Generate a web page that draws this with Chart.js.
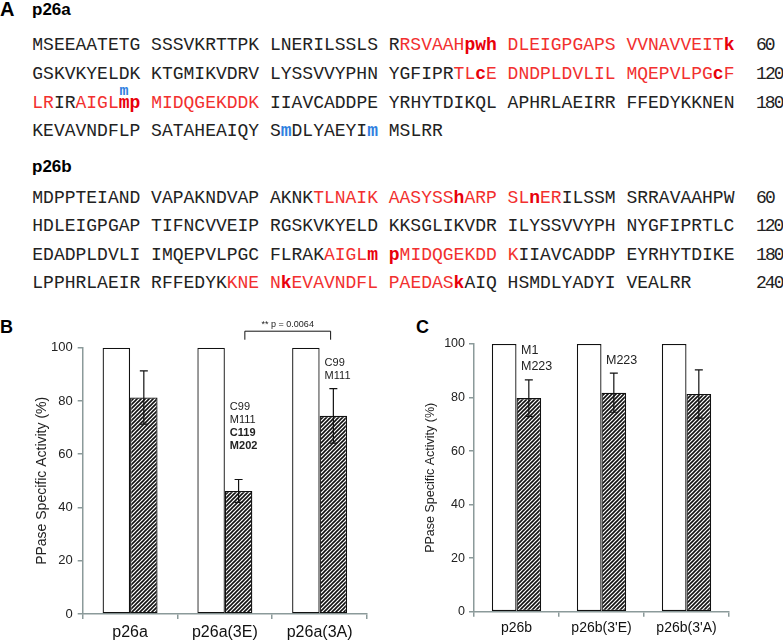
<!DOCTYPE html>
<html><head><meta charset="utf-8">
<script src="https://cdn.jsdelivr.net/npm/chart.js@4"></script>
<style>
body{margin:0;width:783px;height:642px;position:relative;background:#fff;overflow:hidden;font-family:"Liberation Sans",Arial,sans-serif}
.seq{position:absolute;left:32.3px;font-family:"Liberation Mono","Courier New",monospace;font-size:18px;line-height:18px;white-space:pre;color:#222}
.r{color:#f2302f}
.rb{color:#e8000b;font-weight:bold}
.bb{color:#2f7fe0;font-weight:bold}
.n{letter-spacing:-2px}
.lbl{position:absolute;font-weight:bold;font-family:"Liberation Sans",Arial,sans-serif;line-height:1;color:#000;white-space:pre}
canvas{position:absolute}
</style>
</head><body>
<div class="lbl" style="left:0;top:-1px;font-size:20px">A</div>
<div class="lbl" style="left:32px;top:1px;font-size:17px">p26a</div>
<div class="seq" style="top:35.5px">MSEEAATETG SSSVKRTTPK LNERILSSLS R<span class="r">RSVAAH</span><span class="rb">pwh</span><span class="r"> DLEIGPGAPS VVNAVVEIT</span><span class="rb">k</span>  <span class="n">60</span></div>
<div class="seq" style="top:65px">GSKVKYELDK KTGMIKVDRV LYSSVVYPHN YGFIPR<span class="r">TL</span><span class="rb">c</span><span class="r">E DNDPLDVLIL MQEPVLPG</span><span class="rb">c</span><span class="r">F</span>  <span class="n">120</span></div>
<div class="seq" style="top:93.9px"><span class="r">LR</span>IR<span class="r">AIGL</span><span class="rb">mp</span><span class="r"> MIDQGEKDDK</span> IIAVCADDPE YRHYTDIKQL APHRLAEIRR FFEDYKKNEN  <span class="n">180</span></div>
<div class="seq bb" style="top:83.5px;left:119.6px;font-size:15px;line-height:15px">m</div>
<div class="seq" style="top:122.2px">KEVAVNDFLP SATAHEAIQY S<span class="bb">m</span>DLYAEYI<span class="bb">m</span> MSLRR</div>
<div class="lbl" style="left:32px;top:157.6px;font-size:17px">p26b</div>
<div class="seq" style="top:188.9px">MDPPTEIAND VAPAKNDVAP AKNK<span class="r">TLNAIK AASYSS</span><span class="rb">h</span><span class="r">ARP SL</span><span class="rb">n</span><span class="r">ER</span>ILSSM SRRAVAAHPW  <span class="n">60</span></div>
<div class="seq" style="top:217.2px">HDLEIGPGAP TIFNCVVEIP RGSKVKYELD KKSGLIKVDR ILYSSVVYPH NYGFIPRTLC  <span class="n">120</span></div>
<div class="seq" style="top:245.5px">EDADPLDVLI IMQEPVLPGC FLRAK<span class="r">AIGL</span><span class="rb">m</span> <span class="rb">p</span><span class="r">MIDQGEKDD K</span>IIAVCADDP EYRHYTDIKE  <span class="n">180</span></div>
<div class="seq" style="top:273.9px">LPPHRLAEIR RFFEDYK<span class="r">KNE N</span><span class="rb">k</span><span class="r">EVAVNDFL PAEDAS</span><span class="rb">k</span>AIQ HSMDLYADYI VEALRR      <span class="n">240</span></div>
<div class="lbl" style="left:0;top:318px;font-size:18px">B</div>
<div class="lbl" style="left:416px;top:318px;font-size:18px">C</div>
<canvas id="cB" width="390" height="342" style="left:0;top:300px;width:390px;height:342px"></canvas>
<canvas id="cC" width="393" height="342" style="left:390px;top:300px;width:393px;height:342px"></canvas>
<script>
// ---- data ----
const catsB = ['p26a', 'p26a(3E)', 'p26a(3A)'];
const untreatedB = [100, 100, 100];
const treatedB = [81.3, 46.2, 74.4];
const errB = [10.0, 4.3, 10.2];
const notesB = [[], ['C99', 'M111', 'C119', 'M202'], ['C99', 'M111']];
const sigText = '** p = 0.0064';

const catsC = ['p26b', "p26b(3'E)", "p26b(3'A)"];
const untreatedC = [100, 100, 100];
const treatedC = [79.8, 81.8, 81.3];
const errC = [6.8, 7.3, 9.0];
const notesC = [['M1', 'M223'], ['M223'], []];

const yTicks = [0, 20, 40, 60, 80, 100];
const yTitle = 'PPase Specific Activity (%)';

// ---- drawing ----
Chart.defaults.font.family = '"Liberation Sans", Arial, sans-serif';
const AX = '#8b9a9a';

function hatch() {
  const s = 4, c = document.createElement('canvas');
  c.width = s; c.height = s;
  const g = c.getContext('2d');
  g.fillStyle = '#fff'; g.fillRect(0, 0, s, s);
  g.strokeStyle = '#111'; g.lineWidth = 1.6;
  g.beginPath();
  g.moveTo(0, s); g.lineTo(s, 0);
  g.moveTo(-1, 1); g.lineTo(1, -1);
  g.moveTo(s - 1, s + 1); g.lineTo(s + 1, s - 1);
  g.stroke();
  return g.createPattern(c, 'repeat');
}

const extras = {
  id: 'extras',
  afterDatasetsDraw(chart, args, o) {
    const ctx = chart.ctx, y = chart.scales.y, x = chart.scales.x;
    const meta = chart.getDatasetMeta(1);
    ctx.save();
    // error bars
    ctx.strokeStyle = '#111'; ctx.lineWidth = 1.2;
    meta.data.forEach((bar, i) => {
      const v = o.values[i], e = o.err[i];
      const yt = y.getPixelForValue(v + e), yb = y.getPixelForValue(v - e);
      ctx.beginPath();
      ctx.moveTo(bar.x, yt); ctx.lineTo(bar.x, yb);
      ctx.moveTo(bar.x - 4, yt); ctx.lineTo(bar.x + 4, yt);
      ctx.moveTo(bar.x - 4, yb); ctx.lineTo(bar.x + 4, yb);
      ctx.stroke();
    });
    // annotations
    ctx.fillStyle = '#222'; ctx.textBaseline = 'middle'; ctx.textAlign = 'left';
    o.notes.forEach((lines, i) => {
      if (!lines.length) return;
      const bar = meta.data[i];
      const left = bar.x - bar.width / 2 + o.noteDx;
      const y0 = y.getPixelForValue(o.noteY[i]);
      lines.forEach((t, k) => {
        const bold = o.bold && o.bold[i] && o.bold[i].includes(k);
        ctx.font = (bold ? 'bold ' : '') + o.noteSize + 'px "Liberation Sans", Arial, sans-serif';
        ctx.fillText(t, left, y0 + k * o.noteGap);
      });
    });
    // significance bracket
    if (o.sig) {
      const s = o.sig;
      const xl = x.getPixelForValue(s.from) + s.dxl, xr = x.getPixelForValue(s.to) + s.dxr;
      const yTop = y.getPixelForValue(s.top), yLeg = y.getPixelForValue(s.leg);
      ctx.lineWidth = 1;
      ctx.beginPath();
      ctx.moveTo(xl, yLeg); ctx.lineTo(xl, yTop); ctx.lineTo(xr, yTop); ctx.lineTo(xr, yLeg);
      ctx.stroke();
      ctx.font = '9px "Liberation Sans", Arial, sans-serif';
      ctx.textAlign = 'center';
      ctx.fillText(s.text, (xl + xr) / 2, y.getPixelForValue(s.textY));
    }
    ctx.restore();
  }
};

function makeChart(id, cats, base, vals, err, c) {
  return new Chart(document.getElementById(id), {
    type: 'bar',
    data: {
      labels: cats,
      datasets: [
        { data: base, backgroundColor: '#fff', borderColor: '#111', borderWidth: 1.3, borderSkipped: false,
          categoryPercentage: c.catPct, barPercentage: 1 },
        { data: vals, backgroundColor: hatch(), borderColor: '#111', borderWidth: 1.3, borderSkipped: false,
          categoryPercentage: c.catPct, barPercentage: 1 }
      ]
    },
    plugins: [extras],
    options: {
      responsive: false, animation: false,
      layout: { padding: { left: 0, top: c.top, right: c.right, bottom: 0 } },
      plugins: {
        legend: { display: false }, tooltip: { enabled: false },
        extras: { values: vals, err: err, notes: c.notes, noteY: c.noteY, noteDx: c.noteDx,
                  noteGap: c.noteGap, noteSize: c.noteSize, bold: c.bold, sig: c.sig }
      },
      scales: {
        x: {
          grid: { display: true, drawOnChartArea: false, offset: true, tickLength: 5, color: AX, lineWidth: 1.5 },
          border: { color: AX, width: 1.5 },
          ticks: { color: '#111', font: { size: c.xFont }, padding: c.xPad, maxRotation: 0 },
          afterFit: s => { s.height = c.xh; }
        },
        y: {
          min: 0, max: 100,
          afterBuildTicks: s => { s.ticks = yTicks.map(v => ({ value: v })); },
          grid: { drawOnChartArea: false, tickLength: 5, color: AX, lineWidth: 1.5 },
          border: { color: AX, width: 1.5 },
          ticks: { color: '#222', font: { size: c.yFont }, padding: c.yPad },
          title: { display: true, text: yTitle, color: '#222', font: { size: c.titleFont },
                   padding: { top: c.titlePad, bottom: 0 } },
          afterFit: s => { s.width = c.yw; }
        }
      }
    }
  });
}

makeChart('cB', catsB, untreatedB, treatedB, errB, {
  catPct: 0.58, top: 47.7, right: 23, xh: 28, yw: 82.7,
  xFont: 16, xPad: 4, yFont: 13, yPad: 5, titleFont: 14, titlePad: 41.7 - 8.4,
  notes: notesB, noteY: [0, 77.6, 94.1], noteDx: 5, noteGap: 13, noteSize: 11,
  bold: [[], [2, 3], []],
  sig: { from: 1, to: 2, dxl: 20, dxr: 11, top: 106.2, leg: 103, textY: 108.8, text: sigText }
});
makeChart('cC', catsC, untreatedC, treatedC, errC, {
  catPct: 0.58, top: 44, right: 54, xh: 30.3, yw: 84,
  xFont: 14, xPad: 3, yFont: 12.5, yPad: 4, titleFont: 12.5, titlePad: 40.7 - 7.5,
  notes: notesC, noteY: [97.5, 94, 0], noteDx: 4.5, noteGap: 16, noteSize: 12.5,
  bold: null, sig: null
});
</script>
</body></html>
